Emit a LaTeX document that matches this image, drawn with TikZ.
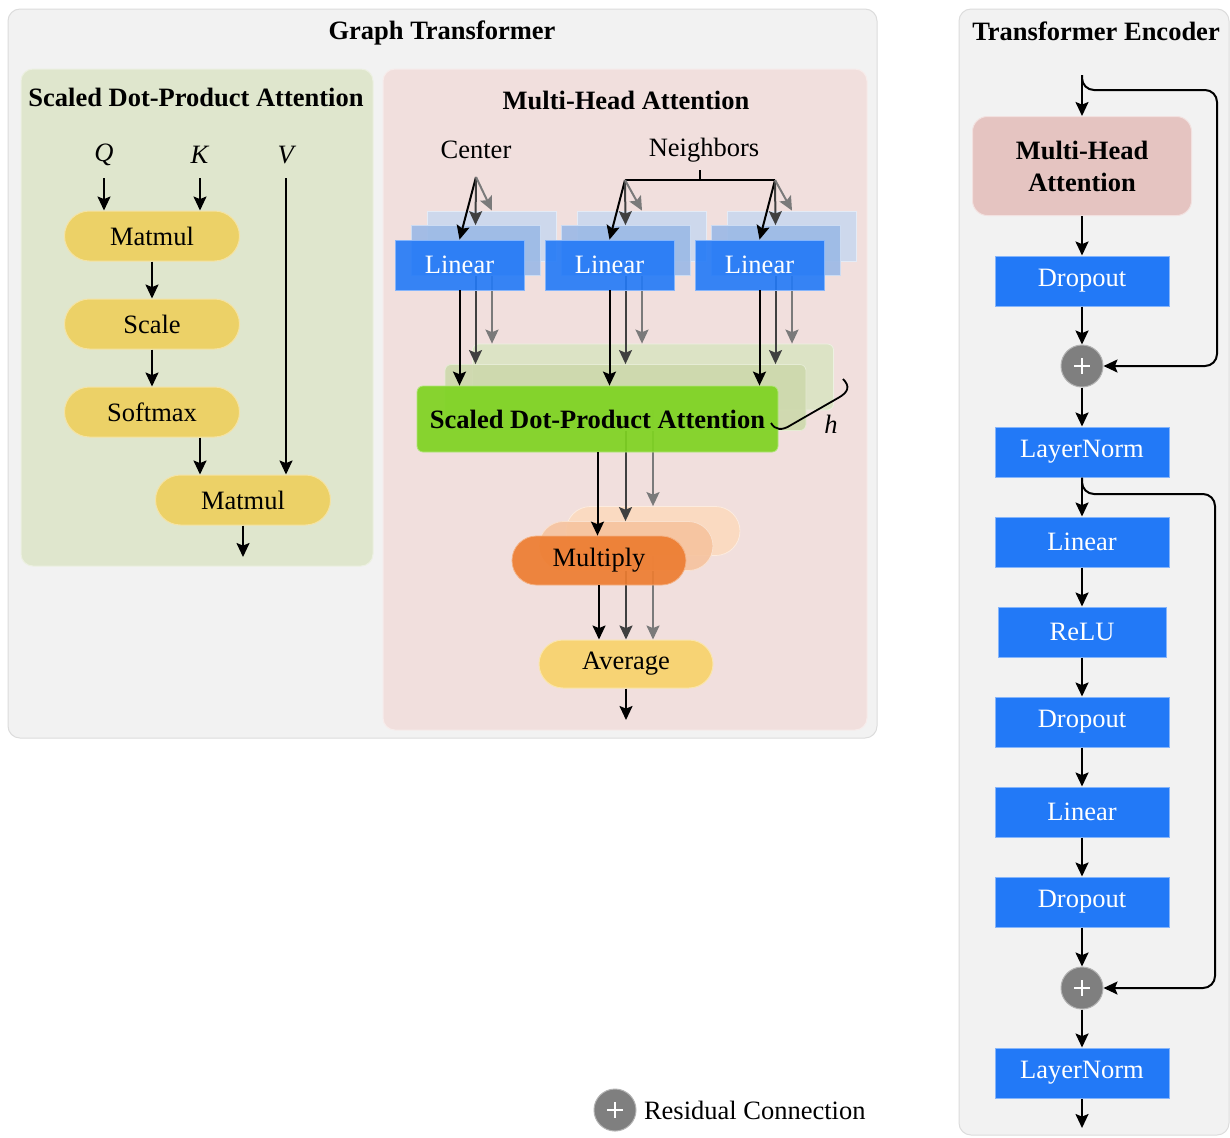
\documentclass[tikz,border=0pt]{standalone}
\usepackage{fontspec}
\setmainfont{Liberation Serif}
\usetikzlibrary{arrows.meta,calc,shapes.misc}
\definecolor{outerbg}{HTML}{F2F2F2}
\definecolor{outerln}{HTML}{DCDCDC}
\definecolor{sdpabg}{HTML}{DFE6CD}
\definecolor{mhabg}{HTML}{F1DFDD}
\definecolor{pillc}{HTML}{ECD167}
\definecolor{bluec}{HTML}{2279F7}
\definecolor{bluem}{HTML}{9BB9E6}
\definecolor{blueb}{HTML}{CAD8EE}
\definecolor{greenf}{HTML}{7ED321}
\definecolor{greenm}{HTML}{CDD9AC}
\definecolor{greenb}{HTML}{DCE3C5}
\definecolor{orgf}{HTML}{ED7D31}
\definecolor{orgm}{HTML}{F6C39E}
\definecolor{orgb}{HTML}{FADAC1}
\definecolor{avgc}{HTML}{F7D374}
\definecolor{mhac}{HTML}{E5C4C1}
\definecolor{plusc}{HTML}{7F7F7F}
\definecolor{dgray}{HTML}{404040}
\definecolor{lgray}{HTML}{7A7A7A}
\begin{document}
\begin{tikzpicture}[x=0.5pt,y=-0.5pt, line width=1pt,
  font=\fontsize{13.25}{15.5}\selectfont,
  >={Stealth[length=7pt,width=6.5pt,inset=1.3pt]},
  panel/.style={rounded corners=6pt, line width=0.5pt},
  ttl/.style={font=\fontsize{13.25}{15.5}\selectfont\bfseries, inner sep=0pt},
  lbl/.style={inner sep=0pt},
  pill/.style={rounded rectangle, minimum width=87.5pt, minimum height=25pt, inner sep=0pt, fill=pillc, draw=pillc!60!white, line width=0.5pt},
  bbox/.style={rectangle, minimum width=87pt, minimum height=25pt, inner sep=0pt, fill=bluec, draw=bluec!55!white, line width=0.5pt, text=white},
  linb/.style={rectangle, minimum width=64.5pt, minimum height=25pt, inner sep=0pt, line width=0.4pt},
  grn/.style={rectangle, rounded corners=3pt, minimum width=180.5pt, minimum height=33pt, inner sep=0pt, line width=0.4pt},
  mul/.style={rounded rectangle, minimum width=87pt, minimum height=24.5pt, inner sep=0pt, line width=0.4pt},
  plusnode/.style={circle, minimum size=21pt, inner sep=0pt, fill=plusc, draw=plusc!60!white, line width=0.5pt,
    path picture={\draw[white, line width=0.65pt]
      ([xshift=-3.8pt]path picture bounding box.center) -- ([xshift=3.8pt]path picture bounding box.center)
      ([yshift=-3.8pt]path picture bounding box.center) -- ([yshift=3.8pt]path picture bounding box.center);}},
  a1/.style={->, black},
  a2/.style={->, dgray},
  a3/.style={->, lgray},
]
\useasboundingbox (0,0) rectangle (1230,1137);
\fill[white] (0,0) rectangle (1230,1137);

% ---------- panels ----------
\draw[panel, fill=outerbg, draw=outerln] (8,9) rectangle (877,738);
\draw[panel, fill=sdpabg, draw=white!40!sdpabg] (21,69) rectangle (373,566);
\draw[panel, fill=mhabg, draw=white!40!mhabg] (383,69) rectangle (867,730);
\draw[panel, fill=outerbg, draw=outerln] (959,9) rectangle (1229,1135);

\node[ttl] (tgt) at (442,33) {Graph Transformer};
\node[ttl] (tsdpa) at (196,97) {Scaled Dot-Product Attention};
\node[ttl] (tmha) at (626,100) {Multi-Head Attention};
\node[ttl] (tenc) at (1096,31) {Transformer Encoder};

% ---------- Scaled dot-product attention ----------
\node[lbl] (q) at (104,155) {\textit{Q}};
\node[lbl] (k) at (200,155) {\textit{K}};
\node[lbl] (v) at (287,155) {\textit{V}};
\coordinate (qs) at (104,178);
\coordinate (ks) at (200,178);
\coordinate (vs) at (286,178);
\node[pill] (mm1) at (152,236) {Matmul};
\node[pill] (scl) at (152,324) {Scale};
\node[pill] (smx) at (152,412) {Softmax};
\node[pill] (mm2) at (243,500) {Matmul};
\coordinate (mm2out) at (243,557);
\draw[a1] (qs) -- (qs |- mm1.north);
\draw[a1] (ks) -- (ks |- mm1.north);
\draw[a1] (mm1.south) -- (scl.north);
\draw[a1] (scl.south) -- (smx.north);
\draw[a1] (smx.south -| ks) -- (ks |- mm2.north);
\draw[a1] (vs) -- (vs |- mm2.north);
\draw[a1] (mm2.south) -- (mm2out);

% ---------- Multi-head attention ----------
\node[pill, fill=avgc, draw=avgc!60!white, minimum width=87pt, minimum height=24pt] (avg) at (626,664) {Average};
\coordinate (avgout) at (626,720);

\node[mul, fill=orgb, draw=white!50!orgb] (mulb) at (653,531) {};
\draw[a3] (mulb.south) -- (mulb.south |- avg.north);
\node[mul, fill=orgm, fill opacity=0.9, draw=white!50!orgm] (mulm) at (626,546) {};
\draw[a2] (mulm.south) -- (mulm.south |- avg.north);
\node[mul, fill=orgf, fill opacity=0.92, text opacity=1, draw=white!40!orgf] (mulf) at (599,560.5) {Multiply};
\draw[a1] (mulf.south) -- (mulf.south |- avg.north);
\draw[a1] (avg.south) -- (avgout);

\node[grn, fill=greenb, draw=white!50!greenb] (sdpb) at (653,377) {};
\draw[a3] (sdpb.south) -- (sdpb.south |- mulb.north);
\node[grn, fill=greenm, fill opacity=0.9, draw=white!50!greenm] (sdpm) at (625.5,397.5) {};
\draw[a2] (sdpm.south) -- (sdpm.south |- mulm.north);
\node[grn, fill=greenf, fill opacity=0.92, text opacity=1, draw=white!40!greenf, font=\fontsize{13.25}{15.5}\selectfont\bfseries] (sdpf) at (597.5,419) {Scaled Dot-Product Attention};
\draw[a1] (sdpf.south) -- (sdpf.south |- mulf.north);

% inputs
\node[lbl] (cen) at (476,150) {Center};
\node[lbl] (nei) at (704,150) {Neighbors};
\coordinate (cf) at (476,177);
\coordinate (nt) at (700,170);
\coordinate (nb) at (700,180);
\coordinate (n1) at (625,180);
\coordinate (n2) at (775,180);
\draw (nt) -- (nb);
\draw (n1) -- (n2);

\foreach \i/\fx/\src in {1/459.5/cf, 2/609.5/n1, 3/759.5/n2}{
  \node[linb, fill=blueb, fill opacity=0.92, draw=white!50!blueb] (lin\i b) at (\fx+32.5,236) {};
  \draw[a3] (lin\i b.south) -- (lin\i b.south |- sdpb.north);
  \node[linb, fill=bluem, fill opacity=0.9, draw=white!50!bluem] (lin\i m) at (\fx+16,250.5) {};
  \draw[a2] (lin\i m.south) -- (lin\i m.south |- sdpm.north);
  \node[linb, fill=bluec, fill opacity=0.9, text opacity=1, text=white, draw=white!45!bluec] (lin\i f) at (\fx,265) {Linear};
  \draw[a1] (lin\i f.south) -- (lin\i f.south |- sdpf.north);
  \draw[a1] (\src) -- (lin\i f.north);
  \draw[a2] (\src) -- (lin\i m.north);
  \draw[a3] (\src) -- (lin\i b.north);
}

% brace h
\draw[line width=0.9pt] (843,379) .. controls (850,386) and (849,392) .. (838,398) -- (791,425) .. controls (782,431) and (775,430) .. (771,423);
\node[lbl] (hh) at (831,424) {\textit{h}};

% ---------- Transformer encoder ----------
\coordinate (ein) at (1082,75);
\node[rectangle, rounded corners=7.5pt, minimum width=109.5pt, minimum height=49.5pt, fill=mhac, draw=white!50!mhac, line width=0.5pt, align=center, font=\fontsize{13.25}{16}\selectfont\bfseries] (emha) at (1082,166) {Multi-Head\\Attention};
\node[bbox] (ed1) at (1082,281) {Dropout};
\node[plusnode] (ep1) at (1082,366) {};
\node[bbox] (eln1) at (1082,452) {LayerNorm};
\node[bbox] (elin1) at (1082,542) {Linear};
\node[bbox, minimum width=84pt] (erelu) at (1082,632) {ReLU};
\node[bbox] (ed2) at (1082,722) {Dropout};
\node[bbox] (elin2) at (1082,812) {Linear};
\node[bbox] (ed3) at (1082,902) {Dropout};
\node[plusnode] (ep2) at (1082,988) {};
\node[bbox] (eln2) at (1082,1073) {LayerNorm};
\coordinate (eout) at (1082,1128);
\coordinate (r1c) at (1217,90);
\coordinate (r2c) at (1215,494);

\draw[a1] (ein) -- (emha.north);
\draw[a1] (emha.south) -- (ed1.north);
\draw[a1] (ed1.south) -- (ep1.north);
\draw[a1] (ep1.south) -- (eln1.north);
\draw[a1] (eln1.south) -- (elin1.north);
\draw[a1] (elin1.south) -- (erelu.north);
\draw[a1] (erelu.south) -- (ed2.north);
\draw[a1] (ed2.south) -- (elin2.north);
\draw[a1] (elin2.south) -- (ed3.north);
\draw[a1] (ed3.south) -- (ep2.north);
\draw[a1] (ep2.south) -- (eln2.north);
\draw[a1] (eln2.south) -- (eout);
\draw[a1, rounded corners=6pt] (ein) |- (r1c) |- (ep1.east);
\draw[a1, rounded corners=6pt] (eln1.south) |- (r2c) |- (ep2.east);

% ---------- legend ----------
\node[plusnode] (lp) at (615,1110) {};
\node[lbl, anchor=west] (ltxt) at (643,1110) {Residual Connection};
\end{tikzpicture}
\end{document}
